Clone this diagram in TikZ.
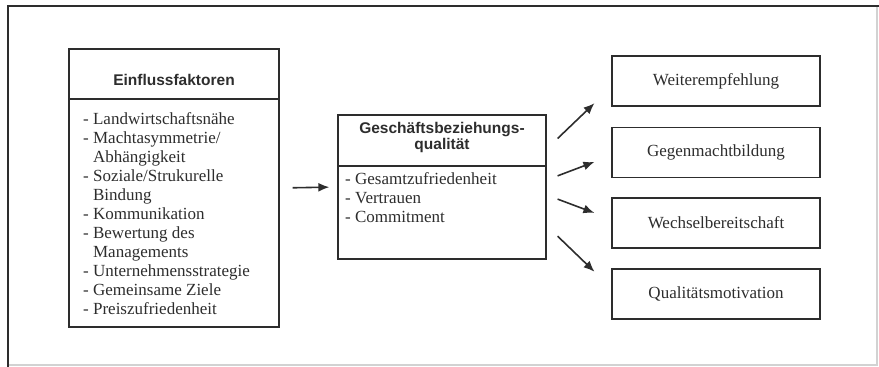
\documentclass[tikz,border=0pt]{standalone}
\usepackage{fontspec}
\setmainfont{Liberation Serif}
\setsansfont{Liberation Sans}
\usepackage{xcolor}
\usepackage{tikz}
\usetikzlibrary{arrows.meta}

\definecolor{ink}{RGB}{45,45,45}
\definecolor{scanline}{RGB}{210,210,210}

\tikzset{
  box/.style={draw=ink, line width=1.3pt, inner sep=0pt},
  kopf/.style={font=\fontsize{15.5}{14}\selectfont\sffamily\bfseries, text=ink, align=center, inner sep=0pt},
  liste/.style={font=\fontsize{17}{19}\selectfont, text=ink, align=left, inner sep=0pt},
  ziel/.style={box, minimum width=208pt, minimum height=50pt, font=\fontsize{17}{19}\selectfont, text=ink},
  pfeil/.style={draw=ink, line width=1.6pt, -{Latex[length=11pt,width=9pt]}}
}

\begin{document}
\begin{tikzpicture}[x=1pt,y=-1pt]
\useasboundingbox (0,0) rectangle (879,367);
% Rahmen
\draw[scanline, line width=1.2pt] (877,5) -- (877,365) -- (8,365);
\draw[ink, line width=2pt] (8,367) -- (8,5.5) -- (879,5.5);

% Einflussfaktoren
\node[box, minimum width=210pt, minimum height=278pt] (einfl) at (174,188) {};
\draw[ink, line width=1.3pt] (einfl.west |- 0,99) -- (einfl.east |- 0,99);
\node[kopf, anchor=base] (einflKopf) at (174,85) {Einflussfaktoren};
\node[liste, anchor=north west] (einflListe) at (83,112) {%
- Landwirtschaftsnähe\\
- Machtasymmetrie/\\
\phantom{- }Abhängigkeit\\
- Soziale/Strukurelle\\
\phantom{- }Bindung\\
- Kommunikation\\
- Bewertung des\\
\phantom{- }Managements\\
- Unternehmensstrategie\\
- Gemeinsame Ziele\\
- Preiszufriedenheit};

% Geschaeftsbeziehungsqualitaet
\node[box, minimum width=208pt, minimum height=144pt] (gbq) at (442,187) {};
\draw[ink, line width=1.3pt] (gbq.west |- 0,166) -- (gbq.east |- 0,166);
\node[kopf, anchor=base] (gbqKopf) at (442,149) {Geschäftsbeziehungs-\\qualität};
\node[liste, anchor=north west] (gbqListe) at (345,172) {%
- Gesamtzufriedenheit\\
- Vertrauen\\
- Commitment};

% Wirkungen
\node[ziel] (w1) at (716,81) {Weiterempfehlung};
\node[ziel] (w2) at (716,152.5) {Gegenmachtbildung};
\node[ziel] (w3) at (716,223) {Wechselbereitschaft};
\node[ziel] (w4) at (716,294) {Qualitätsmotivation};

\draw[pfeil, shorten <=13pt, shorten >=8pt] (einfl.east) -- (gbq.west);
\draw[pfeil, shorten <=15.2pt, shorten >=23.4pt] ([yshift=38pt]gbq.east) -- ([yshift=-6pt]w1.west);
\draw[pfeil, shorten <=11.7pt, shorten >=18.1pt] ([yshift=7pt]gbq.east) -- ([yshift=-3pt]w2.west);
\draw[pfeil, shorten <=11.7pt, shorten >=18.1pt] ([yshift=-8pt]gbq.east) -- ([yshift=3.7pt]w3.west);
\draw[pfeil, shorten <=15.2pt, shorten >=23.4pt] ([yshift=-38.6pt]gbq.east) -- ([yshift=6pt]w4.west);
\end{tikzpicture}
\end{document}
